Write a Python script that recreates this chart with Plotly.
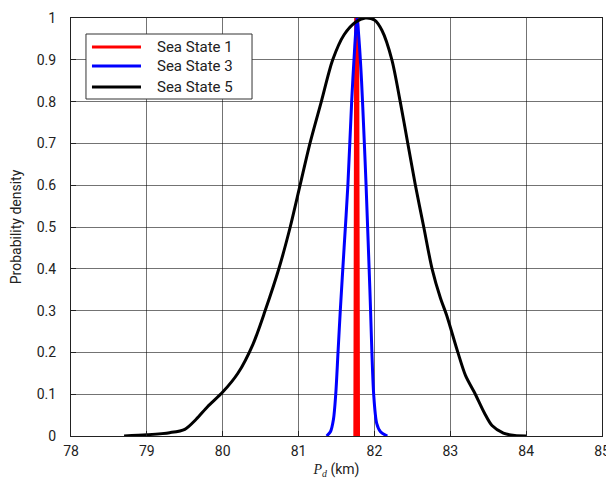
import plotly.graph_objects as go

# Sea State 1 (very narrow spike)
ss1_x = [81.755, 81.766, 81.777]
ss1_y = [0.0, 1.0, 0.0]

# Sea State 3
ss3_x = [81.37, 81.42, 81.46, 81.49, 81.52, 81.55, 81.60, 81.65, 81.70, 81.74, 81.77,
         81.80, 81.83, 81.86, 81.89, 81.94, 81.99, 82.03, 82.08, 82.17]
ss3_y = [0.0, 0.01, 0.04, 0.10, 0.20, 0.30, 0.45, 0.60, 0.80, 0.93, 1.0,
         0.94, 0.85, 0.73, 0.60, 0.35, 0.10, 0.03, 0.01, 0.0]

# Sea State 5
ss5_x = [78.7, 79.0, 79.3, 79.5, 79.65, 79.8, 80.0, 80.2, 80.4, 80.56, 80.74, 80.89,
         81.02, 81.15, 81.30, 81.45, 81.6, 81.75, 81.88, 82.0, 82.1, 82.23, 82.34, 82.44,
         82.54, 82.65, 82.76, 82.87, 82.95, 83.1, 83.2, 83.33, 83.45, 83.55, 83.7, 83.85, 84.0]
ss5_y = [0.0, 0.003, 0.008, 0.016, 0.04, 0.07, 0.105, 0.15, 0.22, 0.30, 0.40, 0.50,
         0.60, 0.70, 0.80, 0.90, 0.96, 0.99, 1.0, 0.995, 0.97, 0.90, 0.80, 0.70,
         0.60, 0.50, 0.40, 0.33, 0.29, 0.20, 0.145, 0.10, 0.055, 0.025, 0.007, 0.001, 0.0]

x_ticks = [78, 79, 80, 81, 82, 83, 84, 85]
y_ticks = [0, 0.1, 0.2, 0.3, 0.4, 0.5, 0.6, 0.7, 0.8, 0.9, 1]
y_tick_text = ["0", "0.1", "0.2", "0.3", "0.4", "0.5", "0.6", "0.7", "0.8", "0.9", "1"]

series_names = ["Sea State 1", "Sea State 3", "Sea State 5"]
series_colors = ["#ff0000", "#0000ff", "#000000"]

fig = go.Figure()
fig.add_trace(go.Scatter(x=ss1_x, y=ss1_y, mode="lines", name=series_names[0],
                         line=dict(color=series_colors[0], width=5)))
fig.add_trace(go.Scatter(x=ss3_x, y=ss3_y, mode="lines", name=series_names[1],
                         line=dict(color=series_colors[1], width=3, shape="spline", smoothing=0.8)))
fig.add_trace(go.Scatter(x=ss5_x, y=ss5_y, mode="lines", name=series_names[2],
                         line=dict(color=series_colors[2], width=3, shape="spline", smoothing=0.8)))

# Manual legend (box, line samples, labels) in plot-area paper coordinates
fig.add_shape(type="rect", xref="paper", yref="paper", x0=0.0282, x1=0.3409, y0=0.8062, y1=0.9617,
              fillcolor="white", line=dict(color="#333", width=1), layer="above")
leg_y = [0.9306, 0.8852, 0.8349]
for name, col, yy in zip(series_names, series_colors, leg_y):
    fig.add_shape(type="line", xref="paper", yref="paper", x0=0.0395, x1=0.1318, y0=yy, y1=yy,
                  line=dict(color=col, width=3), layer="above")
    fig.add_annotation(xref="paper", yref="paper", x=0.158, y=yy, text=name, showarrow=False,
                       xanchor="left", yanchor="middle",
                       font=dict(family="Roboto", size=15, color="#222"))

grid = "rgba(0,0,0,0.55)"
# The page body has an 8px margin, so the figure is sized 8px smaller than the window
fig.update_layout(
    width=606, height=476,
    margin=dict(l=63, r=12, t=10, b=48, autoexpand=False),
    paper_bgcolor="white", plot_bgcolor="white",
    font=dict(family="Roboto", size=14, color="#222"),
    showlegend=False,
    xaxis=dict(range=[78, 85], tickvals=x_ticks, showgrid=True, gridcolor=grid, gridwidth=1,
               showline=True, linecolor="#222", linewidth=1, mirror=True,
               ticks="inside", ticklen=5, tickcolor="#222", zeroline=False,
               ticklabelstandoff=2, automargin=False,
               title=dict(text='<span style="font-family:Liberation Serif"><i>P</i><sub><i>d</i></sub></span> (km)',
                          font=dict(size=14), standoff=6)),
    yaxis=dict(range=[0, 1], tickvals=y_ticks, ticktext=y_tick_text, showgrid=True, gridcolor=grid,
               gridwidth=1, showline=True, linecolor="#222", linewidth=1, mirror=True,
               ticks="inside", ticklen=5, tickcolor="#222", zeroline=False,
               ticklabelstandoff=11, automargin=False,
               title=dict(text="Probability density", font=dict(size=14), standoff=12)),
)

fig.write_html("out.html")
